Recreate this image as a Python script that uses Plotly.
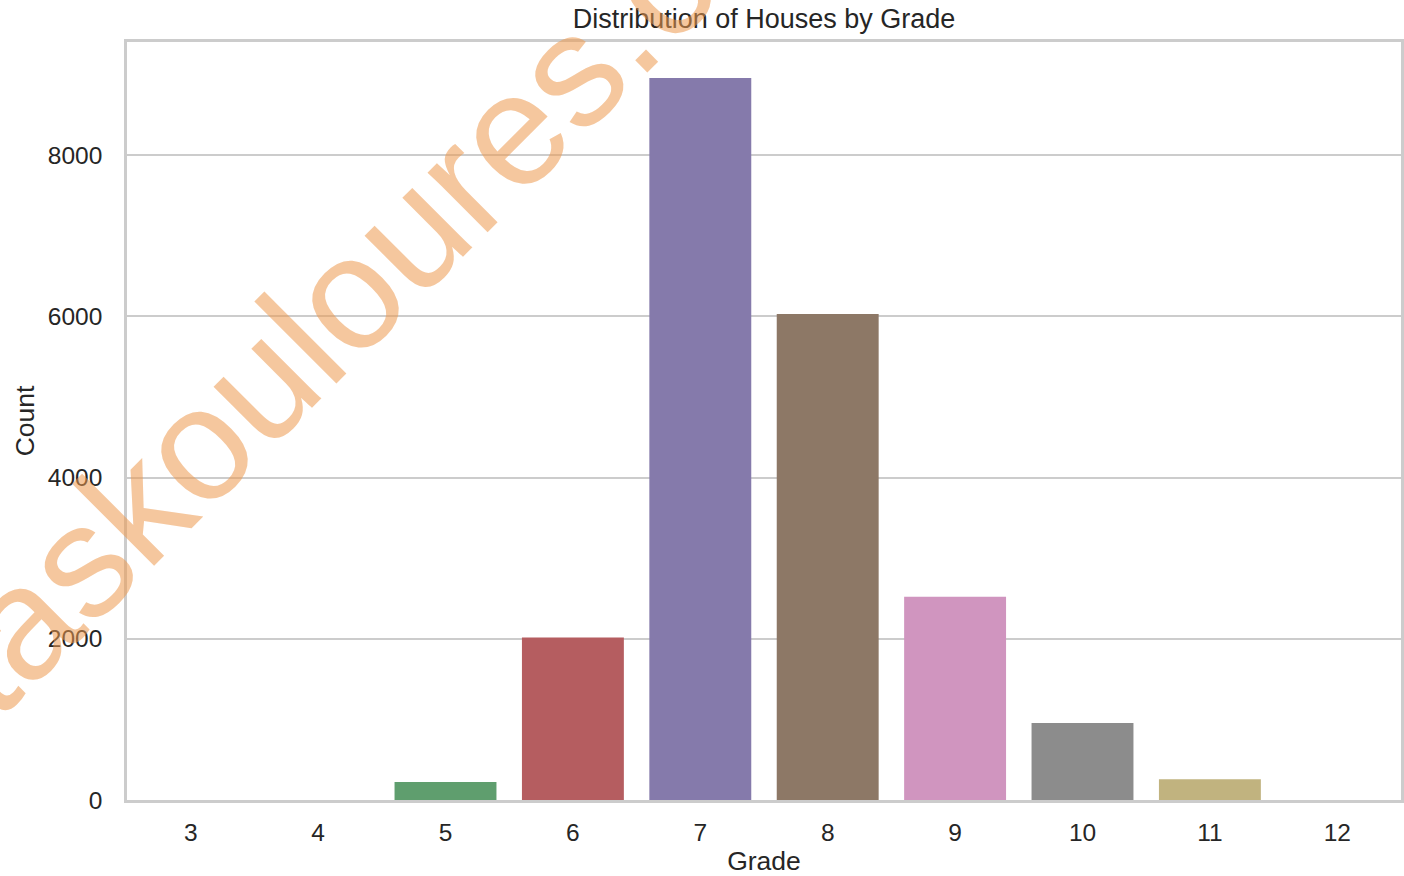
import plotly.graph_objects as go

grades = ["3", "4", "5", "6", "7", "8", "9", "10", "11", "12"]
counts = [0, 0, 222, 2015, 8956, 6030, 2520, 955, 258, 0]
bar_colors = ["#5975a4", "#cc8963", "#5f9e6e", "#b55d60", "#857aab",
              "#8d7866", "#d095bf", "#8c8c8c", "#c1b37f", "#64b5cd"]
y_ticks = [0, 2000, 4000, 6000, 8000]

title_text = "Distribution of Houses by Grade"
x_label = "Grade"
y_label = "Count"
watermark = "taskouloures.com"

W, H = 1404, 876
L, R, T, B = 127, 3, 42, 76
TXT = "#262626"
GRID = "#cccccc"
FONT = "Liberation Sans, Arial, sans-serif"

fig = go.Figure(go.Bar(
    x=grades, y=counts, width=0.8,
    marker=dict(color=bar_colors, line=dict(width=0)),
))

ymax = 1.05 * max(counts)

fig.update_layout(
    width=W, height=H,
    margin=dict(l=L, r=R, t=T, b=B, autoexpand=False),
    paper_bgcolor="white", plot_bgcolor="white",
    font=dict(family=FONT, color=TXT),
    showlegend=False,
    title=dict(text=title_text, x=(L + (W - R)) / 2 / W, xanchor="center",
               y=1 - 19 / H, yanchor="middle",
               font=dict(size=27, color=TXT, family=FONT)),
)

fig.update_xaxes(
    type="category", range=[-0.5, len(grades) - 0.5],
    showgrid=False, zeroline=False,
    showline=True, linecolor=GRID, linewidth=2.5, mirror=True,
    ticks="", tickfont=dict(size=24.5, color=TXT, family=FONT),
    ticklabelstandoff=9,
    title=dict(text=x_label, font=dict(size=26.5, color=TXT, family=FONT), standoff=20),
    automargin=False,
)
fig.update_yaxes(
    range=[0, ymax], tickvals=y_ticks, ticktext=[str(v) for v in y_ticks],
    showgrid=True, gridcolor=GRID, gridwidth=2,
    zeroline=False,
    showline=True, linecolor=GRID, linewidth=2.5, mirror=True,
    ticks="", tickfont=dict(size=24.5, color=TXT, family=FONT),
    ticklabelstandoff=17,
    title=dict(text=y_label, font=dict(size=26.5, color=TXT, family=FONT), standoff=6),
    automargin=False,
)

# watermark overlay (centre given in window pixels)
pw = W - L - R
ph = H - T - B
wx, wy = 400, 242
fig.add_annotation(
    text=watermark, xref="paper", yref="paper",
    x=(wx - L) / pw, y=(H - B - wy) / ph,
    xanchor="center", yanchor="middle", showarrow=False,
    textangle=-45,
    font=dict(size=160, color="rgba(237,153,79,0.55)", family=FONT),
)

fig.write_html(
    "out.html",
    config={"displayModeBar": False},
    post_script="document.body.style.margin='0';"
                "document.documentElement.style.overflow='hidden';",
)
